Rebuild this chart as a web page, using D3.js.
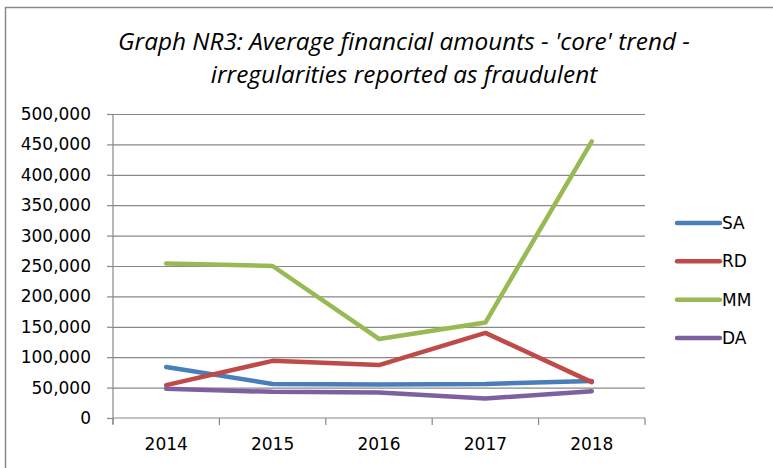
<!DOCTYPE html>
<html>
<head>
<meta charset="utf-8">
<script src="https://cdn.jsdelivr.net/npm/d3@7"></script>
<style>
  body { margin: 0; background: #fff; }
  svg { display: block; }
</style>
</head>
<body>
<div id="chart"></div>
<script>
// chart data
const years = ["2014", "2015", "2016", "2017", "2018"];
const seriesNames = ["SA", "RD", "MM", "DA"];
const saValues = [84000, 56000, 55000, 56000, 61000];
const rdValues = [54000, 94000, 87000, 140000, 59000];
const mmValues = [254000, 250000, 130000, 157000, 455000];
const daValues = [48000, 43000, 42000, 32000, 44000];
const yTicks = [0, 50000, 100000, 150000, 200000, 250000, 300000, 350000, 400000, 450000, 500000];
const colors = ["#4a7ebb", "#be4b48", "#98b954", "#7d60a0"];

const series = seriesNames.map((name, i) => ({
    name,
    color: colors[i],
    values: [saValues, rdValues, mmValues, daValues][i]
}));

const width = 773;
const height = 468;
const margin = { top: 114, right: 128, bottom: 50, left: 113 };

const svg = d3.select("#chart")
    .append("svg")
    .attr("width", width)
    .attr("height", height);

// outer chart border (cut off at right/bottom like the reference)
svg.append("rect")
    .attr("x", 5.5)
    .attr("y", 7.5)
    .attr("width", 800)
    .attr("height", 500)
    .attr("fill", "none")
    .attr("stroke", "#8a8a8a")
    .attr("stroke-width", 1.5);

const x = d3.scaleBand()
    .domain(years)
    .range([margin.left, width - margin.right])
    .padding(0);

const y = d3.scaleLinear()
    .domain([0, 500000])
    .range([height - margin.bottom, margin.top]);

const labelFont = "'DejaVu Sans', Verdana, sans-serif";

// gridlines
svg.append("g")
    .attr("transform", `translate(${margin.left},0)`)
    .call(d3.axisLeft(y).tickValues(yTicks.slice(1)).tickSize(-(width - margin.right - margin.left)).tickFormat(""))
    .call(g => g.select(".domain").remove())
    .call(g => g.selectAll("line").attr("stroke", "#888").attr("stroke-width", 1.2));

// y axis
svg.append("g")
    .attr("transform", `translate(${margin.left},0)`)
    .call(d3.axisLeft(y).tickValues(yTicks).tickSize(6).tickPadding(16).tickFormat(d3.format(",")))
    .call(g => g.select(".domain").attr("stroke", "#888").attr("stroke-width", 1.2).attr("d", `M0,${margin.top}V${height - margin.bottom + 6}`))
    .call(g => g.selectAll("line").attr("stroke", "#888").attr("stroke-width", 1.2))
    .call(g => g.selectAll("text").attr("font-family", labelFont).attr("font-size", "17px").attr("fill", "#000"));

// x axis
const xAxis = svg.append("g")
    .attr("transform", `translate(0,${height - margin.bottom})`)
    .call(d3.axisBottom(x).tickSize(0).tickPadding(20))
    .call(g => g.select(".domain").attr("stroke", "#888").attr("stroke-width", 1.2).attr("d", `M${margin.left},0H${width - margin.right}`))
    .call(g => g.selectAll("text").attr("font-family", labelFont).attr("font-size", "17px").attr("fill", "#000"));

// band boundary ticks
xAxis.selectAll(".bound")
    .data(years.concat(["end"]))
    .enter()
    .append("line")
    .attr("class", "bound")
    .attr("x1", (d, i) => i < years.length ? x(d) : x(years[years.length - 1]) + x.bandwidth())
    .attr("x2", (d, i) => i < years.length ? x(d) : x(years[years.length - 1]) + x.bandwidth())
    .attr("y1", 0)
    .attr("y2", 7)
    .attr("stroke", "#888")
    .attr("stroke-width", 1.2);

// lines
const line = d3.line()
    .x((d, i) => x(years[i]) + x.bandwidth() / 2)
    .y(d => y(d));

svg.selectAll(".series")
    .data(series)
    .enter()
    .append("path")
    .attr("class", "series")
    .attr("d", d => line(d.values))
    .attr("fill", "none")
    .attr("stroke", d => d.color)
    .attr("stroke-width", 4.5)
    .attr("stroke-linejoin", "round")
    .attr("stroke-linecap", "round");

// legend
const legend = svg.append("g");
const legendY = d3.scalePoint().domain(seriesNames).range([223, 338]);

legend.selectAll("line")
    .data(series)
    .enter()
    .append("line")
    .attr("x1", 677)
    .attr("x2", 720)
    .attr("y1", d => legendY(d.name))
    .attr("y2", d => legendY(d.name))
    .attr("stroke", d => d.color)
    .attr("stroke-width", 4.5)
    .attr("stroke-linecap", "round");

legend.selectAll("text")
    .data(series)
    .enter()
    .append("text")
    .attr("x", 722)
    .attr("y", d => legendY(d.name))
    .attr("dy", "0.36em")
    .attr("font-family", labelFont)
    .attr("font-size", "17px")
    .text(d => d.name);

// title
const titleLines = ["Graph NR3: Average financial amounts - 'core' trend -", "irregularities reported as fraudulent"];
const title = svg.append("g");
title.selectAll("text")
    .data(titleLines)
    .enter()
    .append("text")
    .attr("x", 404)
    .attr("y", (d, i) => 50 + i * 33)
    .attr("text-anchor", "middle")
    .attr("font-family", "'Open Sans', sans-serif")
    .attr("font-style", "italic")
    .attr("font-size", "22px")
    .text(d => d);

// fit title width to the reference (first line ~572px)
const firstLen = title.select("text").node().getComputedTextLength();
const fs = 22 * 572 / firstLen;
title.selectAll("text").attr("font-size", fs + "px");
</script>
</body>
</html>
